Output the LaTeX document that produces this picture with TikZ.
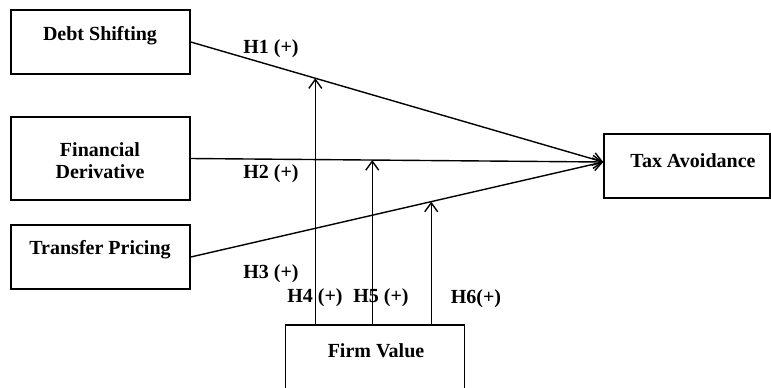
\documentclass[tikz,border=0pt]{standalone}
\usepackage{fontspec}
\setmainfont{Liberation Serif}
\usepackage{tikz}
\usetikzlibrary{arrows.meta,positioning}
\tikzset{
  box/.style={rectangle,draw=black,line width=0.75pt,minimum width=89.5pt,minimum height=32pt,inner sep=0pt},
  txt/.style={font=\bfseries\fontsize{10}{11}\selectfont,inner sep=0pt,align=center},
  hyp/.style={txt},
  arr/.style={-{Straight Barb[length=4.5pt,width=6.5pt]},line width=0.7pt},
}
\begin{document}
\begin{tikzpicture}[x=0.5pt,y=-0.5pt]
        \useasboundingbox (0,0) rectangle (771,387);
        % boxes
        \node[box] (ds) at (100.5,42) {};
        \node[box,minimum height=41.5pt] (fd) at (100.5,158.5) {};
        \node[box] (tp) at (100.5,257) {};
        \node[box,minimum width=83pt] (ta) at (687,166) {};
        \node[box] (fv) at (375,357) {};
        \node[txt] (dst) at (100,36) {Debt Shifting};
        \node[txt] (fdt) at (100,161) {Financial\\Derivative};
        \node[txt] (tpt) at (100,250) {Transfer Pricing};
        \node[txt] (tat) at (693,161) {Tax Avoidance};
        \node[txt] (fvt) at (376,351) {Firm Value};
        % direct paths
        \coordinate (tin) at ([yshift=2pt]ta.west);
        \draw[arr] (ds.east) -- coordinate[pos=0.302] (m1) (tin);
        \draw[arr] (fd.east) -- coordinate[pos=0.44] (m2) (tin);
        \draw[arr] (tp.east) -- coordinate[pos=0.583] (m3) (tin);
        % moderation
        \draw[arr] (fv.north -| m1) -- (m1);
        \draw[arr] (fv.north -| m2) -- (m2);
        \draw[arr] (fv.north -| m3) -- (m3);
        \node[hyp] (h1) at (271,49) {H1 (+)};
        \node[hyp] (h2) at (271,174) {H2 (+)};
        \node[hyp] (h3) at (271,274) {H3 (+)};
        \node[hyp] (h4) at (315,298) {H4 (+)};
        \node[hyp] (h5) at (381,298) {H5 (+)};
        \node[hyp] (h6) at (476,299) {H6(+)};
      \end{tikzpicture}
\end{document}
